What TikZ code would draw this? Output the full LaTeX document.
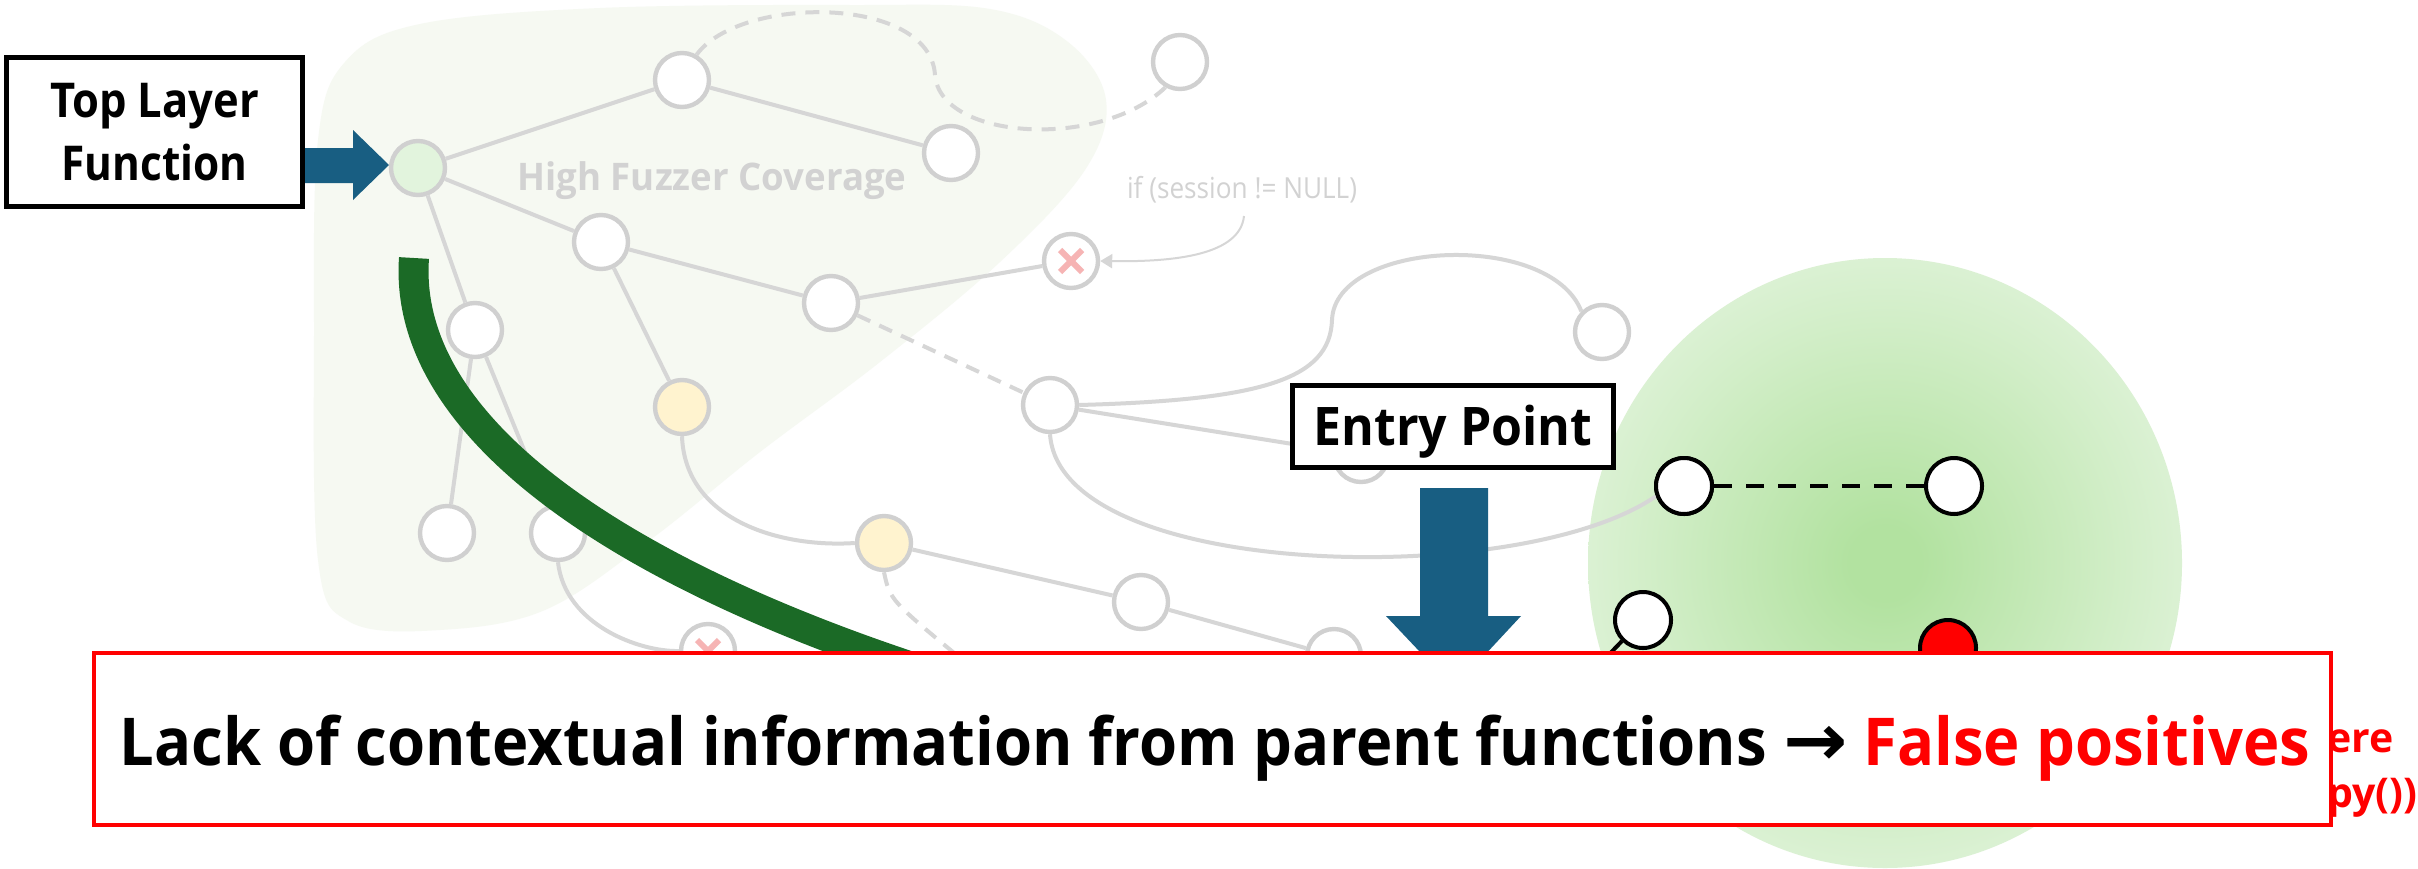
\documentclass[tikz,border=0pt]{standalone}
\usepackage{fontspec}
\usepackage{graphicx}
\setmainfont{Open Sans}
\newfontfamily\arrowfont{DejaVu Sans}
\usetikzlibrary{arrows.meta}

% palette
\definecolor{blockblue}{RGB}{24,94,130}
\definecolor{leafgreen}{RGB}{27,106,38}
\definecolor{fpred}{RGB}{255,0,0}
\definecolor{fadeline}{RGB}{214,214,214}
\definecolor{fadering}{RGB}{208,208,208}
\definecolor{fadetext}{RGB}{210,210,210}
\definecolor{fadezone}{RGB}{246,249,242}
\definecolor{pinkx}{RGB}{246,180,180}
\definecolor{paleyellow}{RGB}{255,243,207}
\definecolor{palegreen}{RGB}{226,244,221}
\definecolor{blobin}{RGB}{178,226,160}
\definecolor{blobmid}{RGB}{210,238,200}
\definecolor{blobout}{RGB}{236,247,233}

% rim of the shaded ellipse sits at about 35bp of the shading
\pgfdeclareradialshading{blobshade}{\pgfpoint{0bp}{0bp}}{%
  color(0bp)=(blobin); color(3bp)=(blobin); color(20bp)=(blobmid); color(35bp)=(blobout); color(50bp)=(blobout)}

\tikzset{
  gedge/.style={draw=fadeline, line width=2pt},
  gdash/.style={gedge, dash pattern=on 7pt off 5pt},
  gnode/.style={circle, draw=fadering, line width=2.2pt, fill=white, minimum size=27pt, inner sep=0pt},
  bnode/.style={circle, draw=black, line width=2pt, fill=white, minimum size=28pt, inner sep=0pt},
  crossmark/.style={draw=pinkx, line width=3pt},
  labelbox/.style={draw=black, line width=2.5pt, fill=white, inner sep=0pt},
  lbltext/.style={anchor=base, inner sep=0pt, font=\bfseries},
  fadelabel/.style={anchor=base, inner sep=0pt, text=fadetext},
}

\begin{document}
\begin{tikzpicture}[x=0.5pt, y=-0.5pt]
\useasboundingbox (0,0) rectangle (2418,868);
\fill[white] (0,0) rectangle (2418,868);

% pale zone behind the covered part of the call graph
\fill[fadezone] plot[smooth cycle, tension=0.6] coordinates {
  (318,140) (345,62) (420,24) (600,8) (850,5) (990,9) (1068,42) (1106,100)
  (1085,170) (1000,262) (880,362) (760,452) (650,540) (545,610) (440,630)
  (350,622) (318,560) (314,330)};

% shaded region around the entry point
\shade[shading=blobshade] (1885,563) ellipse [x radius=297, y radius=305];

% faded call graph: nodes
\node[gnode, fill=palegreen] (top) at (418,168) {};
\node[gnode] (a) at (682,80) {};
\node[gnode] (b) at (951,153) {};
\node[gnode] (c) at (601,242) {};
\node[gnode] (d) at (831,303) {};
\node[gnode] (x1) at (1071,261) {};
\node[gnode] (tr) at (1180,62) {};
\node[gnode] (e) at (475,330) {};
\node[gnode, fill=paleyellow] (f) at (682,407) {};
\node[gnode] (g) at (447,533) {};
\node[gnode] (h) at (558,533) {};
\node[gnode, fill=paleyellow] (i) at (884,543) {};
\node[gnode] (j) at (1050,405) {};
\node[gnode] (k) at (1141,602) {};
\node[gnode] (r) at (1602,332) {};
\node[gnode] (hid) at (1361,455) {};
\node[gnode] (l) at (1334,656) {};
\node[gnode] (x2) at (708,651) {};

% faded call graph: edges
\draw[gedge] (top) -- (a);
\draw[gedge] (a) -- (b);
\draw[gedge] (top) -- (c);
\draw[gedge] (c) -- (d);
\draw[gedge] (d) -- (x1);
\draw[gedge] (top) -- (e);
\draw[gedge] (e) -- (g);
\draw[gedge] (e) -- (h);
\draw[gedge] (c) -- (f);
\draw[gedge] (i) -- (k);
\draw[gedge] (j) -- (hid);
\draw[gedge] (k) -- (l);
\draw[gedge] (f.south) .. controls (685,520) and (780,548) .. (i.west);
\draw[gedge] (h.south) .. controls (565,625) and (640,652) .. (x2.west);
\draw[gedge] (j.east) .. controls (1260,400) and (1330,380) .. (1332,320)
                      .. controls (1335,240) and (1550,230) .. (r.north west);
\draw[gdash] (a.60) .. controls (740,-5) and (930,-5) .. (935,75)
                    .. controls (940,140) and (1100,150) .. (tr.240);
\draw[gdash] (d) -- (j);
\coordinate (idown) at (965,662);
\draw[gdash] (i.south) .. controls (890,600) .. (idown);

% guard condition note
\node[fadelabel, anchor=center] (ifnote) at (1242,190)
  {\resizebox{115pt}{\height}{\fontsize{14.5}{17}\selectfont if (session != NULL)}};
\coordinate (iftail) at (1244,216);
\draw[draw=fadeline, line width=1pt, -{Triangle[length=6pt,width=7pt]}]
  (iftail) .. controls (1240,255) and (1175,262) .. (x1.east);

% crossed-out nodes
\draw[crossmark] ([shift={(-11,-11)}]x1.center) -- ([shift={(11,11)}]x1.center);
\draw[crossmark] ([shift={(-11,11)}]x1.center) -- ([shift={(11,-11)}]x1.center);
\draw[crossmark] ([shift={(-11,-11)}]x2.center) -- ([shift={(11,11)}]x2.center);
\draw[crossmark] ([shift={(-11,11)}]x2.center) -- ([shift={(11,-11)}]x2.center);

% zone caption
\node[fadelabel, font=\bfseries] (zone) at (712,190)
  {\resizebox{194.5pt}{\height}{\fontsize{19}{22}\selectfont High Fuzzer Coverage}};

% highlighted nodes inside the shaded region
\node[bnode] (pa) at (1684,486) {};
\node[bnode] (pb) at (1954,486) {};
\node[bnode] (pc) at (1643,620) {};
\node[bnode, fill=fpred] (pd) at (1948,648) {};
\draw[gedge] (j.south) .. controls (1060,580) and (1520,590) .. (pa.200);
\node[bnode] at (pa) {};
\draw[black, line width=1.8pt, dash pattern=on 9pt off 7pt] (pa) -- (pb);
\coordinate (pcout) at (1596,668);
\draw[black, line width=2pt] (pc.225) -- (pcout);

% long dark green path from the top layer function
\draw[leafgreen, line width=15pt] (414,258) .. controls (402,430) and (625,572) .. (915,668);

% labels with block arrows
\node[labelbox, minimum width=148pt, minimum height=74.5pt] (tlf) at (154.5,132) {};
\node[lbltext] (tlf1) at (154.5,117)
  {\resizebox{104.5pt}{\height}{\fontsize{24}{28}\selectfont\bfseries Top Layer}};
\node[lbltext] (tlf2) at (154.5,180)
  {\resizebox{93pt}{\height}{\fontsize{24}{28}\selectfont\bfseries Function}};
\fill[blockblue] (tlf.east |- 0,148) -- (353,148) -- (353,130) -- (389,165)
  -- (353,200) -- (353,183) -- (tlf.east |- 0,183) -- cycle;

\node[labelbox, minimum width=160.5pt, minimum height=41pt] (entry) at (1453,426.5) {};
\node[lbltext] (entrytxt) at (1453,445)
  {\resizebox{139.5pt}{\height}{\fontsize{26.6}{30}\selectfont\bfseries Entry Point}};
\fill[blockblue] (1420,488) -- (1488,488) -- (1488,616) -- (1521,616) -- (1454,688)
  -- (1386,616) -- (1420,616) -- cycle;

% report text running out at the right edge
\node[anchor=base east, inner sep=0pt, text=fpred, font=\bfseries\fontsize{20.5}{24}\selectfont] (tail1) at (2394,752) {ere};
\node[anchor=base west, inner sep=0pt, text=fpred, font=\bfseries\fontsize{20.5}{24}\selectfont] (tail2) at (2327,807) {py())};

% conclusion banner
\node[draw=fpred, line width=2pt, fill=white, minimum width=1118.5pt, minimum height=86pt, inner sep=0pt] (banner) at (1212.5,739) {};
\node[anchor=base, inner sep=0pt] (bannertxt) at (1215,765)
  {\resizebox{1095pt}{\height}{\fontsize{33}{40}\selectfont\bfseries Lack of contextual information from parent functions {\arrowfont\bfseries\scalebox{1.25}[1.1]{→}} \textcolor{fpred}{False positives}}};
\end{tikzpicture}
\end{document}
